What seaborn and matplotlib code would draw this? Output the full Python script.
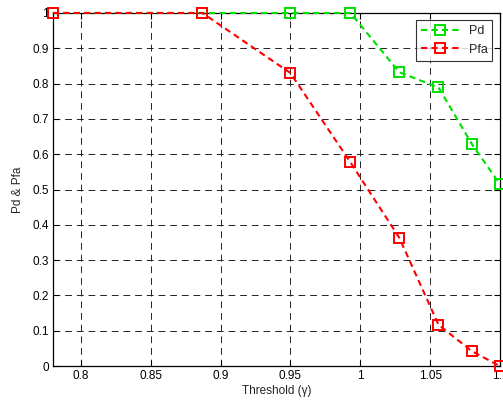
import numpy as np
import pandas as pd
import matplotlib
matplotlib.use("Agg")
import matplotlib.pyplot as plt
import seaborn as sns

threshold = [0.78, 0.887, 0.95, 0.993, 1.028, 1.056, 1.08, 1.1]
pd_vals = [1.0, 1.0, 1.0, 1.0, 0.832, 0.789, 0.628, 0.515]
pfa_vals = [1.0, 1.0, 0.830, 0.577, 0.363, 0.117, 0.042, 0.0]

sns.set_style("white")
plt.rcParams['font.family'] = ['Liberation Sans', 'DejaVu Sans']

fig = plt.figure(figsize=(5.03, 4.05), dpi=100)
ax = fig.add_axes([0.105, 0.096, 0.889, 0.872])

df = pd.DataFrame({"threshold": threshold, "Pd": pd_vals, "Pfa": pfa_vals})

sns.lineplot(data=df, x="threshold", y="Pd", ax=ax, color="#00e000", linestyle=(0, (3, 2)),
             marker="s", markersize=7, markerfacecolor="none", markeredgecolor="#00e000",
             markeredgewidth=1.4, linewidth=1.5, label="Pd", clip_on=False, zorder=3)
sns.lineplot(data=df, x="threshold", y="Pfa", ax=ax, color="#ff0000", linestyle=(0, (3, 2)),
             marker="s", markersize=7, markerfacecolor="none", markeredgecolor="#ff0000",
             markeredgewidth=1.4, linewidth=1.5, label="Pfa", clip_on=False, zorder=4)

ax.set_xlim(0.78, 1.1)
ax.set_ylim(0, 1)
ax.set_xticks([0.8, 0.85, 0.9, 0.95, 1.0, 1.05, 1.1])
ax.set_xticklabels(["0.8", "0.85", "0.9", "0.95", "1", "1.05", "1.1"])
ax.set_yticks(np.arange(0, 1.01, 0.1))
ax.set_yticklabels(["0", "0.1", "0.2", "0.3", "0.4", "0.5", "0.6", "0.7", "0.8", "0.9", "1"])
ax.grid(True, color="#222222", linestyle=(0, (7, 5)), linewidth=0.7)
ax.tick_params(direction="in", length=4, labelsize=8.5, colors="black", pad=3)
ax.tick_params(top=True, right=True, bottom=True, left=True)
for s in ax.spines.values():
    s.set_color("black")
    s.set_linewidth(0.9)

ax.set_xlabel("Threshold (γ)", fontsize=8.5, labelpad=2)
ax.set_ylabel("Pd & Pfa", fontsize=8.5, labelpad=6)

leg = ax.legend(loc="upper right", fontsize=9, frameon=True, fancybox=False,
                edgecolor="black", handlelength=3, borderaxespad=0.6)
leg.get_frame().set_linewidth(0.8)

fig.savefig("out.png", dpi=100)
